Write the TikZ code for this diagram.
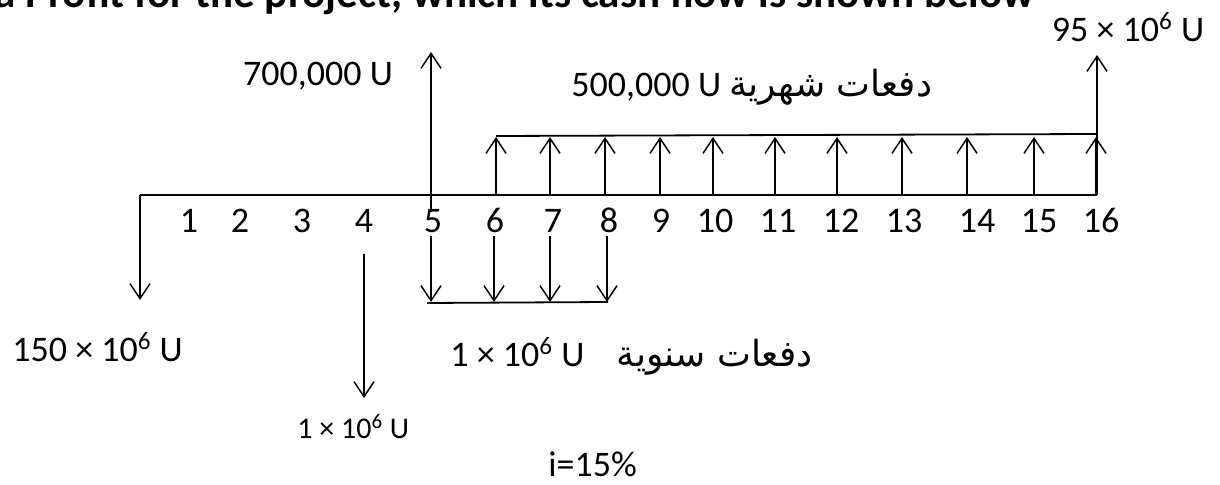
\documentclass[tikz,border=0pt]{standalone}
\usepackage{fontspec}
\setmainfont{Carlito}
\newfontfamily\arabicfont[Script=Arabic]{DejaVu Sans}
\TeXXeTstate=1
\usetikzlibrary{arrows.meta}

\tikzset{
    flow/.style={line width=0.75pt, -{Straight Barb[length=7.5pt,width=10pt]}},
    bar/.style={line width=0.9pt},
    lbl/.style={inner sep=0pt, font=\fontsize{18}{21}\selectfont},
    sml/.style={inner sep=0pt, font=\fontsize{15}{18}\selectfont},
}

\begin{document}
\begin{tikzpicture}[x=0.5pt,y=-0.5pt]
    \useasboundingbox (0,0) rectangle (1220,485);

    % Header line, cut off at the top
    \node[lbl, anchor=base west, font=\fontsize{21.5}{24}\selectfont\bfseries] (head) at (-6,8)
        {a Profit for the project, which its cash flow is shown below};

    % Draw the time axis
    \coordinate (a0) at (140,195);
    \coordinate (a16) at (1097,195);
    \draw[bar] (a0) -- (a16);

    % Label the periods
    \foreach \n/\x in {1/189,2/240,3/302,4/364,5/433,6/495,7/553,8/609,
                       9/661,10/715,11/778,12/841,13/904,14/977,15/1039,16/1101} {
        \node[lbl, anchor=base] (n\n) at (\x,233) {\n};
    }

    % Investment at time 0
    \coordinate (d0) at (140,300);
    \draw[flow] (a0) -- (d0);

    % Payment at 4
    \coordinate (s4) at (364,254);
    \coordinate (d4) at (364,398);
    \draw[flow] (s4) -- (d4);

    % Receipt at 5
    \coordinate (s5) at (431,212);
    \coordinate (u5) at (431,52);
    \draw[flow] (s5) -- (u5);

    % Annual payments 5 to 8
    \foreach \k/\x in {5/431,6/494,7/550,8/607} {
        \coordinate (y\k) at (\x,236);
        \coordinate (z\k) at (\x,302);
        \draw[flow] (y\k) -- (z\k);
    }
    \coordinate (zl) at (427,303);
    \coordinate (zr) at (608,302);
    \draw[bar] (zl) -- (zr);

    % Monthly receipts 6 to 16
    \foreach \k/\x in {6/496,7/550,8/605,9/660,10/713,11/775,12/837,13/902,14/967,15/1034,16/1096} {
        \coordinate (b\k) at (\x,195);
        \coordinate (m\k) at (\x,137);
        \draw[flow] (b\k) -- (m\k);
    }
    \coordinate (ml) at (496,136);
    \coordinate (mr) at (1097,134);
    \draw[bar] (ml) -- (mr);

    % Sale value at 16
    \coordinate (u16) at (1097,55);
    \draw[flow] (a16) -- (u16);

    % Amounts
    \node[lbl, anchor=base] (v16) at (1128,42) {95 × 10\textsuperscript{6} U};
    \node[lbl, anchor=base] (v5) at (318,86) {700,000 U};
    \node[lbl, anchor=base west] (vm) at (571,97)
        {500,000 U {\arabicfont\beginR دفعات شهرية\endR}};
    \node[lbl, anchor=base west] (v0) at (12,362) {150 × 10\textsuperscript{6} U};
    \node[lbl, anchor=base west] (va) at (450,367)
        {1 × 10\textsuperscript{6} U\hspace{0.9em}{\arabicfont\beginR دفعات سنوية\endR}};
    \node[sml, anchor=base west] (v4) at (297,439) {1 × 10\textsuperscript{6} U};
    \node[lbl, anchor=base west] (rate) at (548,477) {i=15\%};
\end{tikzpicture}
\end{document}
